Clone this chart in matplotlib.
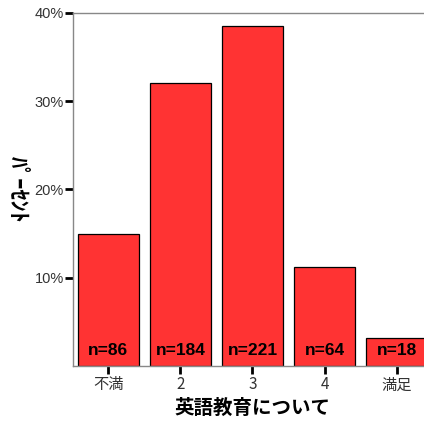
import matplotlib
matplotlib.use("Agg")
import matplotlib.pyplot as plt
from matplotlib.ticker import FuncFormatter

# ==================== Data ====================
categories = ["不満", "2", "3", "4", "満足"]
counts = [86, 184, 221, 64, 18]
total = sum(counts)
percents = [100.0 * c / total for c in counts]

plt.rcParams['font.family'] = ['Liberation Sans', 'Noto Sans CJK JP', 'DejaVu Sans']

fig = plt.figure(figsize=(4.24, 4.23), dpi=100)
# axes runs off the right edge like the original screenshot
ax = fig.add_axes([73 / 424, (423 - 366) / 423, 359 / 424, 353 / 423])

x = range(len(categories))
bars = ax.bar(x, percents, width=0.85, color="#ff3333", edgecolor="black", linewidth=0.9)

for xi, c in zip(x, counts):
    ax.text(xi, 0.9, f"n={c}", ha="center", va="bottom", fontsize=12.5,
            fontweight="bold", color="black")

ax.set_xlim(-0.49, 4.49)
ax.set_ylim(0, 40)
ax.set_yticks([10, 20, 30, 40])
ax.yaxis.set_major_formatter(FuncFormatter(lambda v, p: f"{int(v)}%"))
ax.set_xticks(list(x))
ax.set_xticklabels(categories, family=['Noto Sans CJK JP', 'DejaVu Sans'], fontsize=11)

ax.tick_params(axis="both", direction="out", length=5.5, width=2, color="black",
               labelcolor="#333333")
ax.tick_params(axis="y", pad=1, labelsize=10.5)
ax.tick_params(axis="x", pad=2)

for s in ["left", "bottom", "top", "right"]:
    ax.spines[s].set_color("#888888")
    ax.spines[s].set_linewidth(1.0)

ax.set_xlabel("英語教育について", fontsize=14, fontweight="bold",
              family=['Noto Sans CJK JP', 'DejaVu Sans'], labelpad=4)
ax.set_ylabel("ﾊﾟｰｾﾝﾄ", fontsize=16, fontweight="bold", rotation=270,
              family=['Noto Sans CJK JP', 'DejaVu Sans'])
ax.yaxis.label.set_va("center")
ax.yaxis.set_label_coords(-0.155, 0.5)

fig.savefig("out.png", dpi=100)
